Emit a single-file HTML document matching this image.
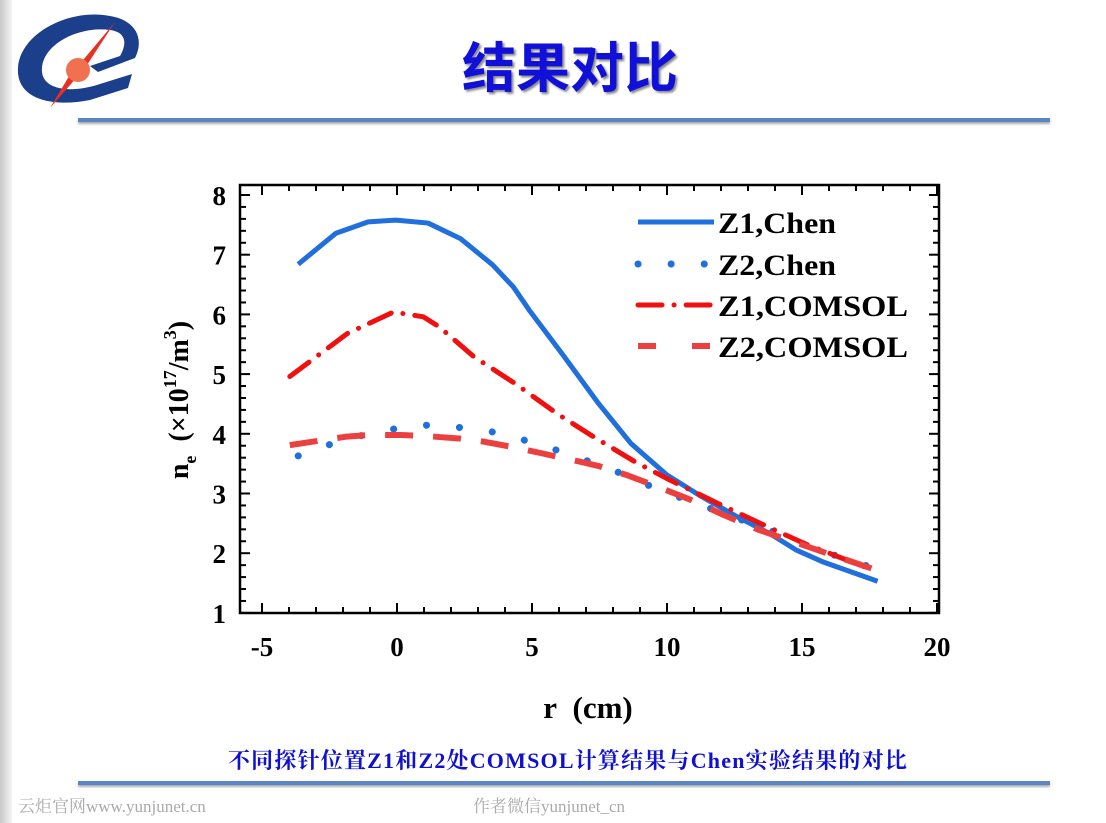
<!DOCTYPE html>
<html><head><meta charset="utf-8"><style>
body{margin:0;width:1106px;height:823px;background:#fff;position:relative;overflow:hidden;font-family:"Liberation Serif","Noto Serif CJK SC",serif}
.abs{position:absolute}
</style></head><body>
<div class="abs" style="left:0;top:0;width:12px;height:823px;background:linear-gradient(90deg,#c8c8c8,#f4f4f4)"></div>
<svg class="abs" style="left:10px;top:8px" width="140" height="110" viewBox="0 0 140 110">
<path d="M100 8 C60 0 10 25 8 60 C6 90 40 100 80 92 L118 80 L122 66 L90 76 C60 86 30 82 32 60 C34 35 70 18 100 22 C115 24 118 34 110 48 L80 58 L88 64 L125 50 C135 30 125 12 100 8Z" fill="#1c3f8c"/>
<path d="M105 14 L75 60 L40 100 L58 70 Z" fill="#e83020"/>
<circle cx="68" cy="62" r="12" fill="#f07050"/>
</svg>
<div class="abs" style="left:420px;top:24px;width:300px;text-align:center;font:bold 54px 'Noto Sans CJK SC',sans-serif;color:#1010d8;text-shadow:2px 2px 2px #888">结果对比</div>
<div class="abs" style="left:78px;top:118px;width:972px;height:4px;background:#5b85c4;box-shadow:0 2px 2px #aaa"></div>
<div class="abs" style="left:78px;top:781px;width:972px;height:4px;background:#5b85c4;box-shadow:0 2px 2px #aaa"></div>
<div class="abs" style="left:100px;top:744px;width:936px;text-align:center;font:bold 22px 'Liberation Serif','Noto Serif CJK SC',serif;letter-spacing:1.2px;color:#1010d0">不同探针位置Z1和Z2处COMSOL计算结果与Chen实验结果的对比</div>
<div class="abs" style="left:18px;top:792px;font:17px 'Liberation Serif','Noto Serif CJK SC',serif;color:#aaa">云炬官网www.yunjunet.cn</div>
<div class="abs" style="left:473px;top:792px;font:17px 'Liberation Serif','Noto Serif CJK SC',serif;color:#aaa">作者微信yunjunet_cn</div>
<svg id="chart" class="abs" style="left:0;top:0" width="1106" height="823"></svg>
<script>
const xTicks=[-5,0,5,10,15,20];
const yTicks=[1,2,3,4,5,6,7,8];
const z1ChenX=[-3.66,-2.26,-1.07,-0.04,1.15,2.35,3.54,4.31,4.9,6.1,7.46,8.66,10.0,11.2,12.6,13.8,14.8,15.8,17.8];
const z1ChenY=[6.84,7.36,7.55,7.58,7.53,7.27,6.83,6.46,6.07,5.35,4.51,3.84,3.31,2.97,2.61,2.33,2.05,1.85,1.53];
const z2ChenX=[-3.66,-2.43,-1.24,-0.01,1.23,2.46,3.71,4.9,6.1,7.28,8.4,9.6,10.8,11.97,13.1,14.3,15.5,17.8];
const z2ChenY=[3.63,3.83,3.98,4.09,4.15,4.10,4.02,3.87,3.70,3.51,3.32,3.08,2.88,2.69,2.5,2.3,2.07,1.73];
const z1ComX=[-3.97,-1.84,-0.13,0.97,1.57,2.85,4.38,5.92,7.28,8.82,10.0,11.9,13.6,15.1,17.6];
const z1ComY=[4.96,5.68,6.04,5.96,5.79,5.29,4.84,4.34,3.95,3.53,3.25,2.83,2.47,2.16,1.72];
const z2ComX=[-3.97,-1.92,-1.07,0.12,1.15,2.35,3.2,4.38,5.4,6.8,7.47,8.5,9.5,10.9,12.1,13.4,14.5,17.6];
const z2ComY=[3.81,3.95,3.98,3.98,3.96,3.92,3.87,3.77,3.67,3.53,3.46,3.31,3.14,2.89,2.64,2.39,2.22,1.74];
const L=240,R=939,T=185,B=613;
const sx=v=>397+v*27, sy=v=>195+(8-v)*59.7;
const svg=document.getElementById('chart');const NS='http://www.w3.org/2000/svg';
function mk(t,a){const e=document.createElementNS(NS,t);for(const k in a)e.setAttribute(k,a[k]);svg.appendChild(e);return e;}
let f=mk('rect',{x:L,y:T,width:R-L,height:B-T,fill:'none',stroke:'#000','stroke-width':2.5});

for(let v=-5;v<=20;v++){const x=sx(v),len=v%5===0?10:6;
mk('line',{x1:x,y1:B,x2:x,y2:B-len,stroke:'#000','stroke-width':2});mk('line',{x1:x,y1:T,x2:x,y2:T+len,stroke:'#000','stroke-width':2});}
for(let i=5;i<=40;i++){const v=i/5,y=sy(v),len=i%5===0?10:6;
mk('line',{x1:L,y1:y,x2:L+len,y2:y,stroke:'#000','stroke-width':2});mk('line',{x1:R,y1:y,x2:R-len,y2:y,stroke:'#000','stroke-width':2});}
xTicks.forEach(v=>{const t=mk('text',{x:sx(v),y:656,'text-anchor':'middle','font-size':27,'font-weight':'bold','font-family':'Liberation Serif,serif'});t.textContent=v;
});
yTicks.forEach(v=>{const t=mk('text',{x:226,y:sy(v)+10,'text-anchor':'end','font-size':27,'font-weight':'bold','font-family':'Liberation Serif,serif'});t.textContent=v;
});
let xl=mk('text',{x:588,y:718,'text-anchor':'middle','font-size':31,'font-weight':'bold','font-family':'Liberation Serif,serif'});xl.textContent='r\u00a0\u00a0(cm)';

let yl=mk('text',{x:0,y:0,transform:'translate(188,400) rotate(-90)','text-anchor':'middle','font-size':28,'font-weight':'bold','font-family':'Liberation Serif,serif'});
yl.innerHTML='n<tspan font-size="18" dy="8">e</tspan><tspan dy="-8">\u00a0\u00a0(×10</tspan><tspan font-size="18" dy="-12">17</tspan><tspan dy="12">/m</tspan><tspan font-size="18" dy="-12">3</tspan><tspan dy="12">)</tspan>';

const series=[
{n:'z1-chen',x:z1ChenX,y:z1ChenY,c:'#1f6fdc',d:'',w:5,cap:'butt',lab:'Z1,Chen'},
{n:'z2-chen',x:z2ChenX,y:z2ChenY,c:'#1f6fdc',d:'0.1 33',w:7,cap:'round',lab:'Z2,Chen'},
{n:'z1-comsol',x:z1ComX,y:z1ComY,c:'#f01010',d:'24 12 0.1 12',w:5,cap:'round',lab:'Z1,COMSOL'},
{n:'z2-comsol',x:z2ComX,y:z2ComY,c:'#ec4040',d:'28 20',w:6,cap:'butt',lab:'Z2,COMSOL'}];
series.forEach((s,i)=>{
const p=mk('polyline',{points:s.x.map((v,j)=>sx(v)+','+sy(s.y[j])).join(' '),fill:'none',stroke:s.c,'stroke-width':s.w,'stroke-dasharray':s.d,'stroke-linecap':s.cap,'stroke-linejoin':'round'});

const ly=[222,264,305,346][i];
const ll=mk('line',{x1:638,y1:ly,x2:714,y2:ly,stroke:s.c,'stroke-width':s.w,'stroke-dasharray':s.d==='28 20'?'18 36':s.d,'stroke-linecap':s.cap});

const t=mk('text',{x:718,y:ly+11,'font-size':30,'font-weight':'bold','font-family':'Liberation Serif,serif','textLength':s.lab.length>8?190:118,'lengthAdjust':'spacingAndGlyphs'});t.textContent=s.lab;

});
</script>
</body></html>
